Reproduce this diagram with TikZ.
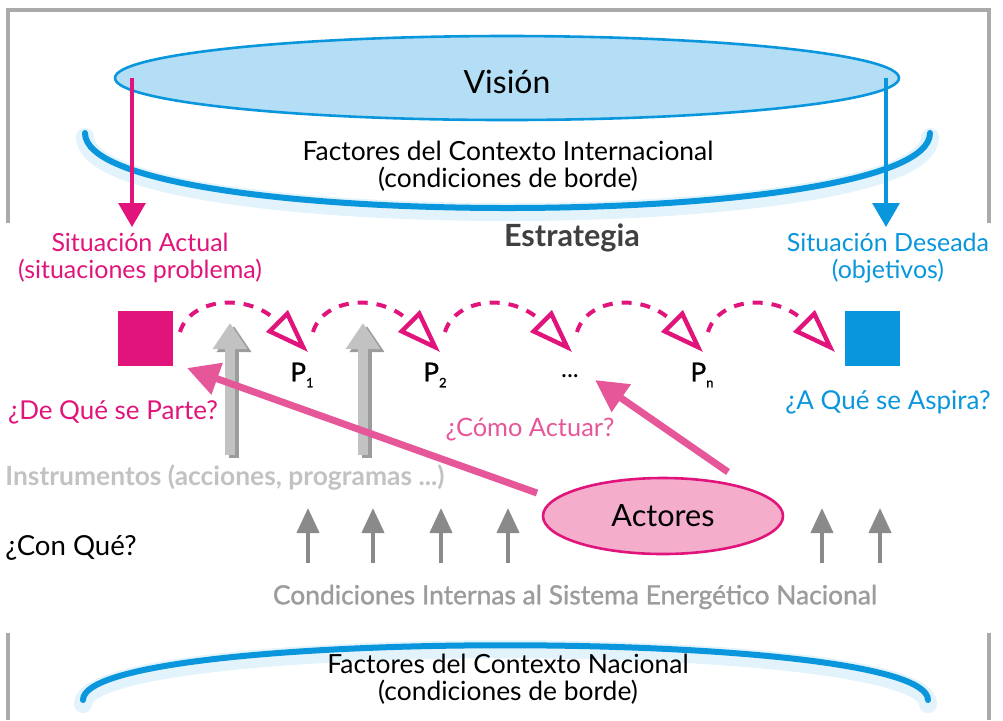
\documentclass[tikz,border=0pt]{standalone}
\usepackage{fontspec}
\setmainfont{Lato}
\newfontfamily\medfont[FakeBold=1.2]{Lato}
\usetikzlibrary{arrows.meta,shapes.geometric}
\definecolor{vblue}{HTML}{0A96DC}
\definecolor{vlight}{HTML}{B3DEF5}
\definecolor{vpink}{HTML}{E0147A}
\definecolor{apink}{HTML}{E6579A}
\definecolor{afill}{HTML}{F4AECB}
\definecolor{fgray}{HTML}{AAAAAA}
\definecolor{agray}{HTML}{8A8A8A}
\definecolor{igray}{HTML}{C2C2C2}
\definecolor{tgray}{HTML}{9C9C9C}
\tikzset{
  frame/.style={fgray, line width=2pt},
  ring/.style={vblue, line width=3pt, line cap=round},
  glow/.style={vblue!12, line width=9pt, line cap=round},
  drop/.style={line width=1.6pt, -{Triangle[length=12pt,width=13.5pt]}},
  stage/.style={vpink, line width=2pt, dash pattern=on 5pt off 4.5pt,
    -{Triangle[open,length=22pt,width=15pt,line width=2.2pt]}},
  instr/.style={line width=5pt, -{Triangle[length=13pt,width=16.5pt]}},
  cond/.style={agray, line width=2pt, -{Triangle[length=12.5pt,width=11pt]}},
  push/.style={apink, line width=3.5pt, -{Triangle[length=16pt,width=16pt]}},
  lbl/.style={inner sep=0pt, font=\fontsize{12.5}{13.5}\selectfont, align=center}
}
\begin{document}
\begin{tikzpicture}[x=0.5pt,y=-0.5pt]
\useasboundingbox (0,0) rectangle (1003,720);
% frame
\draw[frame] (8,223) -- (8,10) -- (989,10) -- (989,223);
\draw[frame] (8,633) -- (8,720);
\draw[frame] (989,633) -- (989,720);

% international context
\node[ellipse, draw=vblue, fill=vlight, line width=1.3pt, minimum width=392pt,
  minimum height=42pt] (vision) at (507,78) {};
\node[lbl, font=\fontsize{16}{18}\selectfont] (visiontxt) at (507,82) {Visión};
\draw[glow] (85,137) .. controls (85,237) and (930,237) .. (930,137);
\draw[ring] (85,133) .. controls (85,233) and (930,233) .. (930,133);
\node[lbl, font=\fontsize{13.2}{13.5}\selectfont] (intl) at (508,166)
  {Factores del Contexto Internacional\\(condiciones de borde)};

\coordinate (pa) at (132,78);
\coordinate (pb) at (132,227);
\coordinate (da) at (886,78);
\coordinate (db) at (886,227);
\draw[drop, vpink] (pa) -- (pb);
\draw[drop, vblue] (da) -- (db);

\node[lbl, font=\bfseries\fontsize{15.3}{17}\selectfont, text=black!75] (estr) at (572,238) {Estrategia};
\node[lbl, text=vpink] (actual) at (140,258) {Situación Actual\\(situaciones problema)};
\node[lbl, text=vblue] (deseada) at (888,258) {Situación Deseada\\(objetivos)};

% stages
\node[fill=vpink, minimum size=27.5pt, inner sep=0pt] (sq1) at (145,338) {};
\node[fill=vblue, minimum size=27.5pt, inner sep=0pt] (sq2) at (872,338) {};
\foreach \s/\t [count=\i] in {180/308, 313/440, 445/572, 577/703, 708/835}{
  \coordinate (s\i) at (\s,332);
  \coordinate (t\i) at (\t,352);
  \draw[stage] (s\i) .. controls ++(10,-34) and ++(-60,-60) .. (t\i);
}
\node[lbl] (p1) at (302,375) {\medfont\fontsize{13}{14}\selectfont P\raisebox{-3pt}{\fontsize{6.5}{7}\selectfont 1}};
\node[lbl] (p2) at (435,375) {\medfont\fontsize{13}{14}\selectfont P\raisebox{-3pt}{\fontsize{6.5}{7}\selectfont 2}};
\node[lbl] (pdots) at (570,376) {...};
\node[lbl] (pn) at (702,375) {\medfont\fontsize{13}{14}\selectfont P\raisebox{-3pt}{\fontsize{6.5}{7}\selectfont n}};

\node[lbl, text=vpink, font=\fontsize{13}{14}\selectfont] (parte) at (113,412) {¿De Qué se Parte?};
\node[lbl, text=vblue, font=\fontsize{13}{14}\selectfont] (aspira) at (888,402) {¿A Qué se Aspira?};
\node[lbl, text=apink, font=\fontsize{12.7}{14}\selectfont] (actuar) at (530,430) {¿Cómo Actuar?};

% instruments
\foreach \x [count=\i] in {230,363}{
  \coordinate (ia\i) at (\x,455);
  \coordinate (ib\i) at (\x,323);
  \draw[instr, tgray] ([shift={(4,3)}]ia\i) -- ([shift={(4,3)}]ib\i);
  \draw[instr, igray] (ia\i) -- (ib\i);
}
\node[lbl, text=igray, font=\bfseries\fontsize{13.2}{14}\selectfont, anchor=west] (instr) at (5,478)
  {Instrumentos (acciones, programas ...)};

% actors
\node[ellipse, draw=vpink, fill=afill, line width=1.3pt, minimum width=120pt,
  minimum height=38pt, font=\fontsize{15.3}{17}\selectfont] (actores) at (663,516) {Actores};
\coordinate (aa) at (537,493);
\coordinate (ab) at (187,368);
\coordinate (ac) at (728,472);
\coordinate (ad) at (595,380);
\draw[push] (aa) -- (ab);
\draw[push] (ac) -- (ad);

% internal conditions
\foreach \x [count=\i] in {308,373,441,508,822,880}{
  \coordinate (ca\i) at (\x,563);
  \coordinate (cb\i) at (\x,508);
  \draw[cond] (ca\i) -- (cb\i);
}
\node[lbl, font=\fontsize{13.8}{15}\selectfont, anchor=west] (conque) at (5,548) {¿Con Qué?};
\node[lbl, text=tgray, font=\medfont\fontsize{13.2}{14}\selectfont] (internas) at (575,597)
  {Condiciones Internas al Sistema Energético Nacional};

% national context
\draw[glow] (83,704) .. controls (83,631) and (928,631) .. (928,704);
\draw[ring] (83,700) .. controls (83,627) and (928,627) .. (928,700);
\node[lbl, font=\fontsize{13.2}{13.5}\selectfont] (nacional) at (508,679)
  {Factores del Contexto Nacional\\(condiciones de borde)};
\end{tikzpicture}
\end{document}
